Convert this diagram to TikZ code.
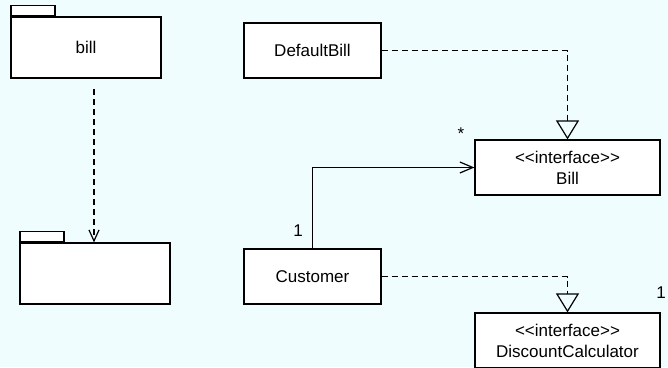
\documentclass[tikz,border=0pt]{standalone}
\usepackage{fontspec}
\setmainfont{Liberation Sans}[Ligatures=TeXOff]
\usetikzlibrary{arrows.meta}
\definecolor{bgc}{RGB}{240,253,255}
\tikzset{
  box/.style={draw, fill=white, line width=1.2pt, inner sep=0pt},
  cls/.style={box, minimum width=137pt, minimum height=55pt, align=center,
              font=\fontsize{17}{21}\selectfont},
  iface/.style={cls, minimum width=185pt},
  pkg/.style={box, minimum width=150pt, minimum height=61pt,
              font=\fontsize{17}{21}\selectfont},
  pkgtab/.style={box, minimum width=44pt, minimum height=10pt, anchor=south west},
  mult/.style={inner sep=0pt, font=\fontsize{17}{21}\selectfont},
  dep/.style={dash pattern=on 6pt off 4pt, line width=1.2pt},
  assoc/.style={line width=1.2pt},
  vtip/.style={-{Straight Barb[length=11pt,width=10pt,line width=1.2pt]}},
  realize/.style={-{Triangle[open,length=19pt,width=23pt,line width=1.2pt]}}
}
\newcommand{\stereo}{<<interface>>}
\begin{document}
\begin{tikzpicture}[x=1pt,y=-1pt]
  % canvas
  \fill[bgc] (0,0) rectangle (668,367);
  \useasboundingbox (0,0) rectangle (668,367);

  % packages
  \node[pkg] (billpkg) at (86,47.5) {bill};
  \node[pkgtab] (billtab) at (billpkg.north west) {};
  \node[pkg] (subpkg) at (95,273.5) {};
  \node[pkgtab] (subtab) at (subpkg.north west) {};

  % classes and interfaces
  \node[cls] (dbill) at (312.5,50.5) {DefaultBill};
  \node[cls] (cust) at (312.5,276.5) {Customer};
  \node[iface] (bill) at (567.5,167.5) {\stereo\\Bill};
  \node[iface] (dc) at (567.5,340.5) {\stereo\\DiscountCalculator};

  % package dependency
  \coordinate (imp) at (94,89);
  \draw[dep,vtip] (imp) -- (imp |- subpkg.north);

  % realizations
  \draw[dep,realize] (dbill.east) -| (bill.north);
  \draw[dep,realize] (cust.east) -| (dc.north);

  % association
  \draw[assoc,-{Straight Barb[length=13pt,width=11pt,line width=1.2pt]}]
    (cust.north) |- (bill.west);

  % multiplicities
  \node[mult] (m1) at (298,231) {1};
  \node[mult] (m2) at (461,134) {*};
  \node[mult] (m3) at (661,293) {1};
\end{tikzpicture}
\end{document}
